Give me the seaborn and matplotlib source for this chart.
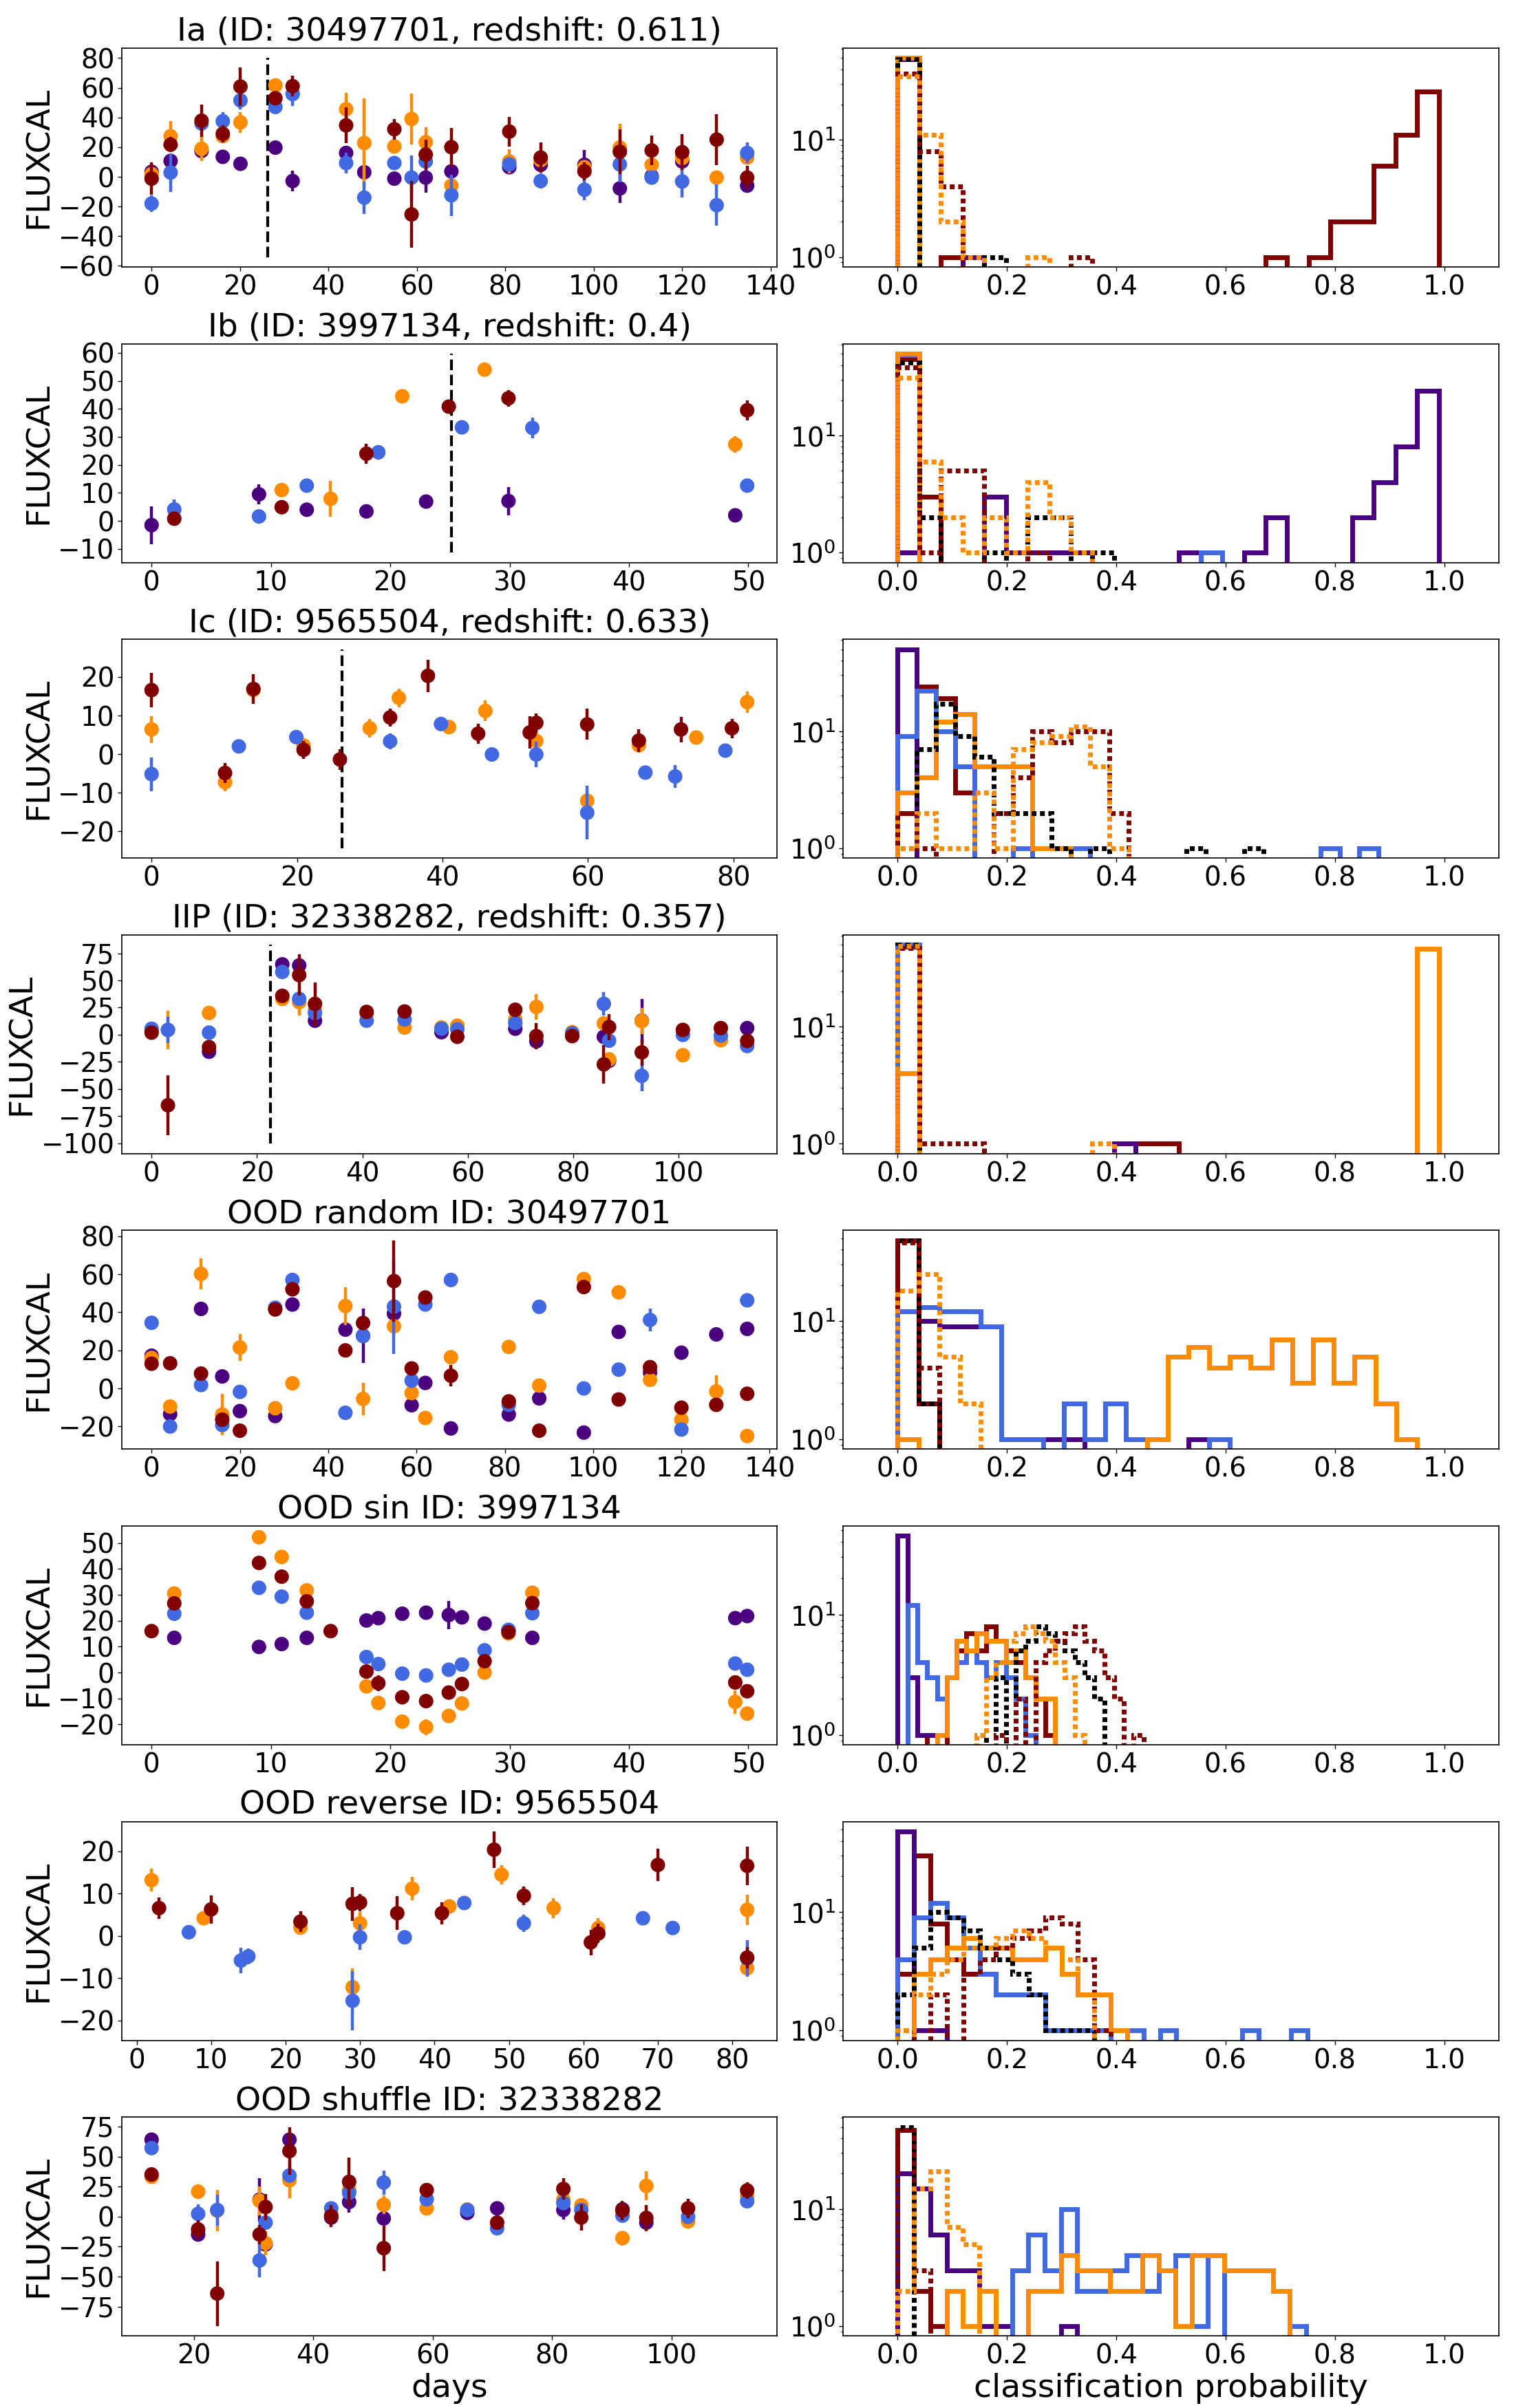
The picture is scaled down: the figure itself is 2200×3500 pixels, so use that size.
import numpy as np
import pandas as pd
import seaborn as sns
import matplotlib.pyplot as plt
from matplotlib.ticker import MaxNLocator

# band -> colour, and the order in which the bands are drawn (last on top)
BAND_COLORS = {"g": "royalblue", "r": "darkorange", "i": "maroon", "z": "indigo"}
BAND_ORDER = ["z", "r", "g", "i"]

# ---------------------------------------------------------------- light curves
# rows: (days, band, FLUXCAL, FLUXCALERR)
ia_points = [
    (0, "z", 3.4, 2), (0, "r", 1.9, 2), (0, "i", -1.2, 11), (0, "g", -18, 5.5),
    (4.3, "r", 27.4, 10), (4.3, "i", 21.7, 5), (4.3, "z", 10.7, 2), (4.3, "g", 2.9, 13),
    (11.3, "i", 37.8, 11), (11.3, "g", 36, 3), (11.3, "r", 18.9, 8), (11.3, "z", 17.4, 2),
    (16.1, "g", 37.5, 6), (16.1, "i", 29, 6), (16.1, "r", 27.4, 3), (16.1, "z", 13.5, 2),
    (20.1, "i", 60.8, 13), (20.1, "g", 51.5, 6), (20.1, "r", 36.7, 7), (20.1, "z", 8.8, 4),
    (28, "r", 61.6, 4), (28, "i", 53, 3), (28, "g", 47.1, 3), (28, "z", 19.7, 2),
    (31.9, "i", 61.1, 7), (31.9, "g", 55.8, 8), (31.9, "r", 56, 3), (31.9, "z", -2.8, 7),
    (44, "r", 45.6, 11), (44, "i", 34.7, 12), (44, "z", 16.1, 3), (44, "g", 9.3, 7),
    (48.1, "r", 22.8, 30), (48.1, "z", 3.1, 3), (48.1, "g", -14, 11),
    (54.9, "i", 32.1, 7), (54.9, "r", 20.5, 3), (54.9, "g", 9.3, 3), (54.9, "z", -1.2, 3),
    (58.8, "r", 39, 17), (58.8, "i", -25.3, 22.5), (58.8, "g", -0.5, 15),
    (62, "r", 23.3, 10), (62, "i", 15, 10), (62, "g", 10.4, 3), (62, "z", -0.5, 10),
    (67.8, "i", 20, 13), (67.8, "z", 3.7, 3), (67.8, "r", -5.9, 3), (67.8, "g", -12.4, 14),
    (80.9, "i", 30.5, 10), (80.9, "r", 10.4, 8), (80.9, "g", 8.4, 3), (80.9, "z", 6.5, 2),
    (88, "i", 13, 10), (88, "r", 11.2, 3), (88, "z", 8.1, 3), (88, "g", -2.8, 5),
    (97.9, "z", 8.1, 10), (97.9, "r", 6.5, 3), (97.9, "i", 3.7, 6), (97.9, "g", -8.7, 7),
    (105.9, "r", 19.7, 16), (105.9, "i", 16.9, 15), (105.9, "g", 8.4, 12), (105.9, "z", -7.8, 10),
    (113.1, "i", 17.8, 10), (113.1, "r", 8.1, 3), (113.1, "g", -0.5, 3), (113.1, "z", 0.3, 3),
    (120, "i", 16.6, 12), (120, "r", 12.7, 3), (120, "z", 10.4, 3), (120, "g", -3.1, 11),
    (127.8, "i", 25.1, 17), (127.8, "r", -0.5, 3), (127.8, "g", -19.1, 14),
    (134.7, "g", 16.1, 7), (134.7, "r", 13, 3), (134.7, "i", -0.5, 8), (134.7, "z", -5.9, 3),
]
ib_points = [
    (0, "z", -1.5, 6.7),
    (1.9, "g", 4.1, 3.5), (1.9, "i", 0.8, 2.5),
    (9, "z", 9.5, 3.5), (9, "g", 1.6, 1.5),
    (10.9, "r", 11, 1.5), (10.9, "i", 4.9, 2.5),
    (13, "g", 12.6, 1.5), (13, "z", 4, 2.5),
    (15, "r", 7.9, 6.5),
    (18, "i", 24, 3.5), (18, "z", 3.4, 2.5),
    (19, "g", 24.5, 2.5),
    (21, "r", 44.5, 1.5),
    (23, "z", 6.9, 2.5),
    (24.9, "i", 40.8, 2),
    (26, "g", 33.4, 1.5),
    (27.9, "r", 54, 1.5),
    (29.9, "i", 43.8, 3), (29.9, "z", 7.1, 5),
    (31.9, "g", 33.2, 3.7),
    (48.9, "r", 27.3, 3), (48.9, "z", 2, 2.5),
    (49.9, "i", 39.5, 3.5), (49.9, "g", 12.6, 2.5),
]
ic_points = [
    (0, "i", 16.6, 4.5), (0, "r", 6.4, 3.5), (0, "g", -5.2, 4.4),
    (10.1, "i", -4.9, 2.5), (10.1, "r", -7.3, 2.3),
    (12, "g", 2, 1),
    (14, "i", 16.9, 3.8), (14, "r", 16.6, 1),
    (19.9, "g", 4.4, 1),
    (20.9, "r", 2.2, 2), (20.9, "i", 1.1, 2.3),
    (25.9, "i", -1.4, 2.7),
    (30, "r", 6.7, 2.4),
    (32.8, "i", 9.5, 2.3), (32.8, "g", 3.3, 2),
    (34, "r", 14.6, 2.4),
    (38, "i", 20.3, 4.2),
    (39.8, "g", 7.8, 1),
    (40.9, "r", 7, 1),
    (44.9, "i", 5.3, 2.6),
    (45.9, "r", 11.2, 2.7),
    (46.8, "g", -0.1, 1),
    (52, "i", 5.6, 4.2),
    (52.9, "i", 8.1, 2.5), (52.9, "r", 3.4, 2.5), (52.9, "g", -0.1, 3.3),
    (59.9, "i", 7.7, 4), (59.9, "r", -12.1, 2.5), (59.9, "g", -15.2, 7),
    (67, "i", 3.5, 3), (67, "r", 2.3, 1.5),
    (67.9, "g", -4.8, 1.5),
    (72, "g", -5.8, 3),
    (72.8, "i", 6.4, 3.3),
    (74.9, "r", 4.3, 1),
    (78.9, "g", 0.9, 1.5),
    (79.8, "i", 6.7, 2.5),
    (81.9, "r", 13.5, 2.7),
]
iip_points = [
    (0, "g", 5.5, 2), (0, "i", 1.9, 2.5), (0, "r", 4, 2),
    (3.1, "r", 4.4, 18), (3.1, "g", 4.4, 12), (3.1, "i", -65, 27.5),
    (10.9, "r", 20, 3.5), (10.9, "g", 1.9, 4.5), (10.9, "z", -15.7, 3), (10.9, "i", -11.4, 4),
    (24.8, "z", 64.8, 3), (24.8, "g", 57.8, 3), (24.8, "i", 35.8, 3), (24.8, "r", 33, 3),
    (28, "z", 63.8, 3), (28, "i", 54.9, 19), (28, "g", 33, 3), (28, "r", 30, 12),
    (31, "i", 28.4, 20), (31, "r", 22.5, 3), (31, "g", 19.9, 3), (31, "z", 12.9, 5),
    (40.8, "i", 21, 3), (40.8, "r", 19.3, 3), (40.8, "g", 12.9, 3),
    (48, "i", 21.4, 4), (48, "g", 14, 3), (48, "r", 6.6, 3),
    (55, "g", 5.5, 3), (55, "z", 2.3, 3), (55, "r", 6.6, 3),
    (58, "r", 8.3, 4), (58, "g", 4.9, 3), (58, "i", -1.9, 6),
    (69, "i", 23, 5), (69, "r", 14, 3), (69, "g", 10.8, 3), (69, "z", 5.5, 5),
    (73, "r", 25.6, 12), (73, "i", -1.3, 12), (73, "z", -6.1, 3),
    (79.8, "r", 2.3, 3), (79.8, "g", 1.3, 3), (79.8, "i", -1.3, 4),
    (85.8, "g", 28.4, 11), (85.8, "r", 10.4, 6), (85.8, "z", -1.9, 3), (85.8, "i", -27.3, 18),
    (86.8, "i", 7, 12), (86.8, "g", -5.5, 3), (86.8, "r", -22.7, 3), (86.8, "z", -24, 3),
    (93, "z", 12.9, 20), (93, "r", 12.5, 12), (93, "i", -16.3, 12), (93, "g", -37.9, 14),
    (100.8, "i", 4.4, 5), (100.8, "g", -0.2, 3), (100.8, "r", -18.9, 4),
    (108, "i", 6.1, 4), (108, "g", -0.8, 3), (108, "r", -5.1, 3),
    (113, "z", 6.1, 3), (113, "i", -5.7, 5), (113, "g", -10.4, 3),
]
random_points = [
    (0, "g", 34.5, 2), (0, "z", 17.2, 2), (0, "r", 16, 2), (0, "i", 13, 2),
    (4.2, "i", 13.2, 2), (4.2, "r", -9.5, 2), (4.2, "z", -13.5, 2), (4.2, "g", -20, 2),
    (11.2, "r", 60.2, 8), (11.2, "z", 41.8, 2), (11.2, "i", 7.8, 2), (11.2, "g", 1.8, 2),
    (16, "z", 6.3, 2), (16, "r", -13.7, 11), (16, "i", -16.4, 2), (16, "g", -19.2, 2),
    (20, "r", 21.5, 7), (20, "g", -1.8, 2), (20, "z", -11.9, 2), (20, "i", -22.2, 2),
    (28, "g", 42.4, 2), (28, "i", 41.5, 2), (28, "r", -10.4, 2), (28, "z", -14.5, 2),
    (31.9, "g", 57, 2), (31.9, "i", 52.1, 2), (31.9, "z", 44.1, 2), (31.9, "r", 2.7, 2),
    (43.9, "r", 43.3, 10), (43.9, "z", 30.9, 2), (43.9, "i", 20, 2.5), (43.9, "g", -12.8, 2),
    (47.9, "i", 34.4, 2), (47.9, "z", 27.7, 14.4), (47.9, "g", 27.5, 2), (47.9, "r", -5.5, 8.5),
    (54.9, "i", 56.4, 21.4), (54.9, "g", 43, 25), (54.9, "z", 39.3, 2), (54.9, "r", 32.7, 2),
    (58.9, "i", 10.5, 2), (58.9, "g", 4.1, 2), (58.9, "r", -2.4, 2), (58.9, "z", -8.8, 2),
    (62, "i", 47.8, 2), (62, "g", 44.1, 2), (62, "z", 2.9, 2), (62, "r", -15.5, 2),
    (67.8, "g", 57, 2), (67.8, "r", 16.4, 2), (67.8, "i", 6.7, 5.7), (67.8, "z", -21, 2),
    (80.9, "r", 21.8, 2), (80.9, "g", -8.6, 2), (80.9, "i", -6.8, 2), (80.9, "z", -13.7, 2),
    (87.8, "g", 42.9, 2), (87.8, "r", 1.5, 2), (87.8, "z", -5.2, 2), (87.8, "i", -22.2, 2),
    (97.9, "r", 57.5, 2), (97.9, "i", 53.3, 2), (97.9, "g", 0, 2), (97.9, "z", -23.2, 2),
    (105.8, "r", 50.5, 2), (105.8, "z", 29.7, 2), (105.8, "g", 9.9, 2), (105.8, "i", -5.8, 2),
    (112.9, "g", 36, 6), (112.9, "i", 11.2, 2), (112.9, "z", 8.5, 2), (112.9, "r", 4.5, 2),
    (120, "z", 18.8, 2), (120, "i", -10.1, 2), (120, "r", -16.4, 2), (120, "g", -21.6, 2),
    (127.9, "z", 28.4, 2), (127.9, "r", -1.6, 8.5), (127.9, "i", -8.6, 2),
    (134.9, "g", 46.3, 2), (134.9, "z", 31.3, 2), (134.9, "i", -2.8, 2), (134.9, "r", -25, 1.7),
]
sin_points = [
    (0, "i", 16, 2.5),
    (1.9, "r", 30.5, 1), (1.9, "i", 26.7, 1), (1.9, "g", 22.7, 1), (1.9, "z", 13.4, 1),
    (9, "r", 52.2, 0.5), (9, "i", 42.3, 1), (9, "g", 32.7, 1), (9, "z", 9.9, 1),
    (10.9, "r", 44.6, 1), (10.9, "i", 37, 1), (10.9, "g", 29.3, 1), (10.9, "z", 11, 1),
    (13, "r", 31.7, 1), (13, "i", 27.5, 1), (13, "g", 23.1, 1), (13, "z", 13.4, 1),
    (15, "i", 16, 1),
    (18, "z", 20.1, 1), (18, "g", 6, 1), (18, "i", 0.4, 1), (18, "r", -5.3, 1),
    (19, "z", 21, 1), (19, "g", 3.3, 1), (19, "i", -4.1, 3), (19, "r", -11.7, 1),
    (21, "z", 22.7, 1), (21, "g", -0.4, 1), (21, "i", -9.5, 1), (21, "r", -18.9, 1),
    (23, "z", 23.1, 1), (23, "g", -1.1, 1), (23, "i", -11, 1), (23, "r", -21, 3),
    (24.9, "z", 22.2, 5.5), (24.9, "g", 1.1, 1), (24.9, "i", -7.7, 1), (24.9, "r", -16.7, 1),
    (26, "z", 21.3, 1), (26, "g", 3.1, 1), (26, "i", -4.4, 1), (26, "r", -11.9, 1),
    (27.9, "z", 18.9, 1), (27.9, "g", 8.6, 1), (27.9, "i", 4.4, 1), (27.9, "r", 0, 1),
    (29.9, "z", 16.3, 1), (29.9, "g", 16.5, 1), (29.9, "i", 15.6, 1), (29.9, "r", 15.1, 1),
    (31.9, "r", 30.8, 1), (31.9, "i", 26.8, 1), (31.9, "g", 22.9, 1), (31.9, "z", 13.4, 1),
    (48.9, "z", 21, 1), (48.9, "g", 3.5, 2.5), (48.9, "i", -3.8, 1), (48.9, "r", -11.3, 4.5),
    (49.9, "z", 21.8, 1), (49.9, "g", 1.1, 1), (49.9, "i", -7.2, 1), (49.9, "r", -15.8, 1),
]
reverse_points = [
    (2, "r", 13.2, 2.7),
    (3, "i", 6.6, 2.5),
    (7, "g", 0.9, 1),
    (9, "r", 4.2, 1.5),
    (10, "i", 6.3, 3.3),
    (14, "g", -5.8, 3),
    (15, "g", -4.8, 1.8),
    (22, "i", 3.4, 2.5), (22, "r", 2, 1.5),
    (29, "i", 7.6, 4), (29, "r", -12.1, 4.5), (29, "g", -15.3, 7),
    (30, "i", 7.9, 2), (30, "r", 3, 2.7), (30, "g", -0.3, 3),
    (35, "i", 5.4, 4),
    (36, "g", -0.3, 1),
    (37, "r", 11.2, 2.7),
    (41, "i", 5.4, 2.6),
    (42, "r", 7, 1),
    (44, "g", 7.8, 1),
    (48, "i", 20.4, 4.3),
    (49, "r", 14.5, 2.3),
    (52, "i", 9.5, 2.2), (52, "g", 3, 2),
    (56, "r", 6.6, 2.3),
    (61, "i", -1.5, 3),
    (62, "r", 1.9, 2.3), (62, "i", 0.6, 2.3),
    (68, "g", 4.2, 1),
    (70, "i", 16.8, 3.8),
    (72, "g", 1.9, 1),
    (82, "i", 16.6, 4.6), (82, "r", 6.2, 3.6), (82, "i", -5.1, 2.5),
    (82, "g", -5.3, 4.3), (82, "r", -7.6, 1.5),
]
shuffle_points = [
    (12.9, "z", 64.1, 3), (12.9, "g", 57.1, 3), (12.9, "i", 35.1, 6), (12.9, "r", 33.2, 3),
    (20.7, "r", 20.8, 6), (20.7, "g", 2.3, 8), (20.7, "z", -14.9, 6), (20.7, "i", -10.7, 8),
    (23.9, "g", 5.5, 13), (23.9, "r", 5, 17), (23.9, "i", -64.1, 27),
    (31, "r", 13.2, 12), (31, "z", 14.1, 18), (31, "i", -14.9, 8), (31, "g", -36.5, 14),
    (32, "i", 8, 11), (32, "g", -5, 3), (32, "z", -23.1, 3), (32, "r", -22.1, 10),
    (36, "z", 64.1, 3), (36, "i", 54.6, 20), (36, "g", 34.2, 3), (36, "r", 30.3, 15),
    (43, "g", 6.9, 3), (43, "i", 0.4, 9), (43, "r", 1.7, 3), (43, "z", -0.8, 3),
    (46, "i", 29, 20), (46, "r", 22.1, 3), (46, "g", 19.8, 3), (46, "z", 12.2, 9),
    (51.8, "g", 28.4, 10), (51.8, "r", 9.9, 8), (51.8, "z", -1.5, 3), (51.8, "i", -26.3, 19),
    (59, "i", 22.1, 6), (59, "g", 14.5, 3), (59, "r", 6.9, 6),
    (65.8, "g", 5.5, 3), (65.8, "z", 3.1, 3), (65.8, "r", 5.9, 6),
    (70.8, "z", 6.9, 5), (70.8, "i", -5, 5), (70.8, "g", -9.7, 3),
    (81.9, "i", 23.1, 9), (81.9, "r", 14.1, 3), (81.9, "g", 11.3, 3), (81.9, "z", 5.5, 8),
    (84.9, "r", 9.4, 6), (84.9, "g", 5.5, 3), (84.9, "i", -0.8, 11),
    (91.8, "i", 5.2, 8), (91.8, "z", 6.1, 3), (91.8, "g", 0.8, 3), (91.8, "r", -17.9, 6),
    (95.8, "r", 25.6, 12), (95.8, "i", -1.1, 11), (95.8, "z", -5, 3),
    (102.8, "i", 6.9, 8), (102.8, "g", -0.2, 3), (102.8, "r", -4, 5),
    (112.7, "i", 21.8, 7), (112.7, "r", 17, 3), (112.7, "g", 12.8, 3),
]

# peak time marker: (day, flux low, flux high)
ia_peak = (26.2, -54, 80)
ib_peak = (25.1, -11.3, 59.7)
ic_peak = (26.2, -24.4, 27.2)
iip_peak = (22.6, -100.4, 82.8)

titles = [
    "Ia (ID: 30497701, redshift: 0.611)",
    "Ib (ID: 3997134, redshift: 0.4)",
    "Ic (ID: 9565504, redshift: 0.633)",
    "IIP (ID: 32338282, redshift: 0.357)",
    "OOD random ID: 30497701",
    "OOD sin ID: 3997134",
    "OOD reverse ID: 9565504",
    "OOD shuffle ID: 32338282",
]

# ---------------------------------------------------------- probability hists
# 25 bins spanning [0, upper]; {bin index: count}
N_BINS = 25
SOLID = ["Ia", "Ib", "Ic", "IIP"]
DOTTED = ["base other", "base Ia", "base IIP"]
SERIES_COLORS = {"Ia": "maroon", "Ib": "indigo", "Ic": "royalblue", "IIP": "darkorange",
                 "base other": "black", "base Ia": "maroon", "base IIP": "darkorange"}

ia_upper = 0.99
ia_hist = {
    "Ia": {2: 1, 17: 1, 19: 1, 20: 2, 21: 2, 22: 6, 23: 11, 24: 26},
    "Ib": {0: 49, 3: 1},
    "Ic": {0: 50},
    "IIP": {0: 50},
    "base other": {0: 49, 4: 1},
    "base Ia": {0: 37, 1: 8, 2: 4, 8: 1},
    "base IIP": {0: 35, 1: 11, 2: 2, 3: 1, 6: 1},
}
ib_upper = 0.99
ib_hist = {
    "Ia": {0: 45, 1: 3},
    "Ib": {0: 1, 4: 3, 5: 1, 6: 1, 7: 1, 8: 1, 13: 1, 16: 1, 17: 2, 21: 2, 22: 4, 23: 8, 24: 24},
    "Ic": {0: 49, 14: 1},
    "IIP": {0: 50},
    "base other": {0: 42, 1: 2, 4: 1, 6: 2, 7: 2, 9: 1},
    "base Ia": {0: 38, 1: 1, 2: 5, 3: 5, 6: 1},
    "base IIP": {0: 31, 1: 6, 2: 2, 3: 1, 4: 2, 5: 1, 6: 4, 7: 2, 8: 1},
}
ic_upper = 0.88
ic_hist = {
    "Ia": {0: 2, 1: 24, 2: 19, 3: 3},
    "Ib": {0: 50},
    "Ic": {0: 9, 1: 22, 2: 10, 3: 5, 6: 1, 9: 1, 22: 1, 24: 1},
    "IIP": {0: 3, 1: 4, 2: 12, 3: 14, 4: 5, 5: 5, 6: 5, 7: 1, 8: 1},
    "base other": {0: 1, 1: 7, 2: 17, 3: 9, 4: 6, 5: 2, 6: 2, 7: 2, 8: 1, 10: 1, 15: 1, 18: 1},
    "base Ia": {0: 2, 1: 1, 5: 2, 6: 4, 7: 10, 8: 8, 9: 10, 10: 10, 11: 2},
    "base IIP": {0: 1, 1: 2, 2: 1, 3: 1, 4: 3, 5: 1, 6: 7, 7: 8, 8: 9, 9: 11, 10: 5, 11: 1},
}
iip_upper = 0.99
iip_hist = {
    "Ia": {0: 48, 11: 1, 12: 1},
    "Ib": {0: 49, 10: 1},
    "Ic": {0: 50},
    "IIP": {0: 4, 24: 46},
    "base other": {0: 50},
    "base Ia": {0: 47, 1: 1, 2: 1, 3: 1},
    "base IIP": {0: 49, 9: 1},
}
random_upper = 0.95
random_hist = {
    "Ia": {0: 48, 1: 2},
    "Ib": {0: 12, 1: 10, 2: 9, 3: 9, 4: 9, 5: 1, 6: 1, 7: 1, 8: 1, 14: 1},
    "Ic": {0: 12, 1: 13, 2: 12, 3: 12, 4: 9, 5: 1, 6: 1, 8: 2, 9: 1, 10: 2, 11: 1, 15: 1},
    "IIP": {0: 1, 12: 1, 13: 5, 14: 6, 15: 4, 16: 5, 17: 4, 18: 7, 19: 3, 20: 7, 21: 3,
            22: 5, 23: 2, 24: 1},
    "base other": {0: 48, 1: 2},
    "base Ia": {0: 46, 1: 4},
    "base IIP": {0: 18, 1: 25, 2: 5, 3: 2},
}
sin_upper = 0.45
sin_hist = {
    "Ia": {3: 1, 5: 3, 6: 5, 7: 7, 8: 5, 9: 8, 10: 6, 11: 5, 12: 4, 13: 3, 14: 2, 15: 1},
    "Ib": {0: 45, 1: 3, 2: 1, 3: 1},
    "Ic": {1: 12, 2: 4, 3: 3, 4: 2, 5: 3, 6: 4, 7: 5, 8: 4, 9: 3, 10: 4, 11: 3, 12: 2, 13: 1},
    "IIP": {4: 1, 5: 3, 6: 6, 7: 5, 8: 7, 9: 6, 10: 6, 11: 4, 12: 5, 13: 3, 14: 2, 15: 2},
    "base other": {8: 1, 10: 3, 12: 5, 13: 6, 14: 8, 15: 7, 16: 6, 17: 5, 18: 4, 19: 3, 20: 2},
    "base Ia": {10: 1, 12: 2, 14: 4, 15: 5, 16: 6, 17: 7, 18: 8, 19: 6, 20: 5, 21: 3, 22: 2, 24: 1},
    "base IIP": {8: 1, 9: 3, 10: 4, 11: 6, 12: 7, 13: 8, 14: 7, 15: 6, 16: 4, 17: 3, 18: 1},
}
reverse_upper = 0.75
reverse_hist = {
    "Ia": {0: 3, 1: 30, 2: 8, 3: 4, 4: 3, 5: 3, 6: 2, 7: 2, 8: 2, 9: 1, 10: 1, 11: 1},
    "Ib": {0: 48, 1: 1, 2: 1},
    "Ic": {0: 4, 1: 9, 2: 12, 3: 9, 4: 5, 5: 3, 6: 2, 7: 2, 8: 2, 9: 1, 10: 1, 11: 1,
           12: 1, 14: 1, 16: 1, 21: 1, 24: 1},
    "IIP": {1: 3, 2: 4, 3: 5, 4: 6, 5: 5, 6: 5, 7: 4, 8: 4, 9: 5, 10: 3, 11: 2, 12: 2, 13: 1},
    "base other": {0: 2, 1: 5, 2: 10, 3: 9, 4: 7, 5: 5, 6: 4, 7: 3, 8: 2, 9: 1, 10: 1, 11: 1},
    "base Ia": {0: 1, 2: 2, 4: 3, 5: 4, 6: 5, 7: 6, 8: 7, 9: 9, 10: 8, 11: 4, 12: 1},
    "base IIP": {0: 1, 1: 2, 2: 3, 3: 4, 4: 5, 5: 5, 6: 6, 7: 7, 8: 6, 9: 5, 10: 4, 11: 2},
}
shuffle_upper = 0.747
shuffle_hist = {
    "Ia": {0: 47, 1: 2, 2: 1},
    "Ib": {0: 20, 1: 15, 2: 6, 3: 3, 4: 3, 5: 1, 6: 1, 10: 1},
    "Ic": {7: 3, 8: 6, 9: 3, 10: 10, 11: 2, 12: 2, 13: 3, 14: 4, 15: 2, 16: 3, 17: 4,
           18: 1, 19: 4, 24: 1},
    "IIP": {3: 2, 4: 1, 5: 2, 8: 2, 9: 2, 10: 4, 11: 3, 12: 3, 13: 2, 14: 2, 15: 4, 16: 3,
            17: 1, 18: 4, 19: 4, 20: 3, 21: 3, 22: 3, 23: 2},
    "base other": {0: 50},
    "base Ia": {0: 47, 1: 3},
    "base IIP": {0: 2, 1: 15, 2: 21, 3: 7, 4: 5},
}

panels = [
    (ia_points, ia_peak, ia_hist, ia_upper),
    (ib_points, ib_peak, ib_hist, ib_upper),
    (ic_points, ic_peak, ic_hist, ic_upper),
    (iip_points, iip_peak, iip_hist, iip_upper),
    (random_points, None, random_hist, random_upper),
    (sin_points, None, sin_hist, sin_upper),
    (reverse_points, None, reverse_hist, reverse_upper),
    (shuffle_points, None, shuffle_hist, shuffle_upper),
]

# ------------------------------------------------------------------- drawing
sns.set_theme(style="ticks", rc={
    "axes.edgecolor": "black", "axes.linewidth": 1.2,
    "xtick.color": "black", "ytick.color": "black", "text.color": "black",
    "axes.labelcolor": "black",
    "xtick.major.size": 4, "ytick.major.size": 4,
    "xtick.minor.size": 2.5, "ytick.minor.size": 2.5,
    "xtick.major.width": 1, "ytick.major.width": 1, "ytick.minor.width": 0.8,
})
plt.rcParams["font.family"] = ["DejaVu Sans"]

NICE_STEPS = [1, 2, 2.5, 5, 10]
W, H = 2200, 3500
fig = plt.figure(figsize=(22, 35), dpi=100)

for k, (points, peak, hist, upper) in enumerate(panels):
    top = 70 + 429.6 * k
    ax = fig.add_axes([177 / W, 1 - (top + 318) / H, 952 / W, 318 / H])
    axh = fig.add_axes([1225 / W, 1 - (top + 318) / H, 953 / W, 318 / H])

    # light curve
    df = pd.DataFrame(points, columns=["days", "band", "flux", "err"])
    for z, band in enumerate(BAND_ORDER):
        sub = df[df["band"] == band]
        if sub.empty:
            continue
        ax.errorbar(sub["days"], sub["flux"], yerr=sub["err"], fmt="none",
                    ecolor=BAND_COLORS[band], elinewidth=3.2, capsize=0, zorder=2 + z)
        sns.scatterplot(data=sub, x="days", y="flux", color=BAND_COLORS[band], s=230,
                        edgecolor="none", linewidth=0, legend=False, ax=ax, zorder=2 + z)
    if peak is not None:
        ax.vlines(peak[0], peak[1], peak[2], colors="black", linestyles="--", lw=3, zorder=1)
    ax.xaxis.set_major_locator(MaxNLocator(nbins=9, steps=NICE_STEPS))
    ax.yaxis.set_major_locator(MaxNLocator(nbins=9, steps=NICE_STEPS))
    ax.set_title(titles[k], fontsize=34, pad=8)
    ax.set_ylabel("FLUXCAL", fontsize=34)
    ax.set_xlabel("")
    ax.tick_params(labelsize=28)

    # classification probabilities
    edges = np.linspace(0, upper, N_BINS + 1)
    centers = 0.5 * (edges[:-1] + edges[1:])
    for name in SOLID + DOTTED:
        counts = [hist[name].get(i, 0) for i in range(N_BINS)]
        ls = "-" if name in SOLID else (0, (1, 0.75))
        axh.hist(centers, bins=edges, weights=counts, histtype="step", log=True,
                 color=SERIES_COLORS[name], linestyle=ls, lw=5)
    axh.set_xlim(-0.1, 1.1)
    axh.set_xticks([0.0, 0.2, 0.4, 0.6, 0.8, 1.0])
    axh.tick_params(labelsize=28)

ax.set_xlabel("days", fontsize=34)
axh.set_xlabel("classification probability", fontsize=34)

fig.savefig("out.png", dpi=100)
